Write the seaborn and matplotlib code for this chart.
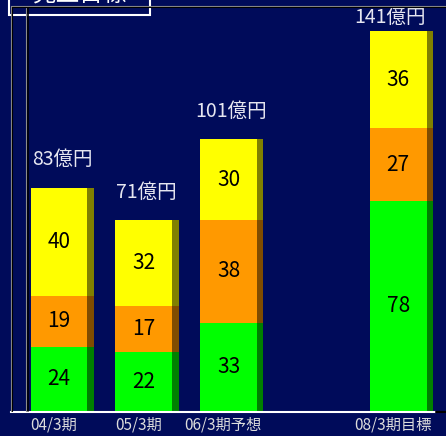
import numpy as np
import matplotlib
matplotlib.use("Agg")
import matplotlib.pyplot as plt
import matplotlib.patches as mpatches
from matplotlib.lines import Line2D
import seaborn as sns

# データ（億円）
periods = ['04/3期', '05/3期', '06/3期予想', '', '08/3期目標']
green = [24, 22, 33, np.nan, 78]
orange = [19, 17, 38, np.nan, 27]
yellow = [40, 32, 30, np.nan, 36]
totals = [83, 71, 101, np.nan, 141]
title = '売上目標'

navy = '#000b5a'
seg_colors = [('#00ff00', '#008000'), ('#ff9900', '#804c00'), ('#ffff00', '#808000')]

sns.set_style('dark')
plt.rcParams['font.family'] = ['Noto Sans CJK JP', 'DejaVu Sans']

W, H = 446, 436
fig = plt.figure(figsize=(W / 100, H / 100), dpi=100, facecolor=navy)
ax = fig.add_axes([11 / W, (H - 411.5) / H, 424 / W, 404.5 / H])
ax.set_facecolor(navy)

x = np.arange(len(periods))
off, bw, sw = -0.27, 0.672, 0.075
ymax = 150

bottom = np.zeros(len(periods))
for vals, (c, dark) in zip([green, orange, yellow], seg_colors):
    v = np.array(vals, dtype=float)
    ax.bar(x + off, v, bw, bottom=bottom, color=c, align='edge', linewidth=0)
    ax.bar(x + off + bw, v, sw, bottom=bottom, color=dark, align='edge', linewidth=0)
    for i in range(len(periods)):
        if not np.isnan(v[i]):
            ax.text(x[i] + off + bw / 2, bottom[i] + v[i] / 2, f'{int(v[i])}',
                    ha='center', va='center', fontsize=15, color='black')
    bottom = bottom + np.nan_to_num(v)

# 合計ラベル（上端に収まるように調整）
for i, t in enumerate(totals):
    if np.isnan(t):
        continue
    ty, tx = t + 10.4, x[i] + 0.1
    if ty > ymax - 3.8:
        ty, tx = ymax - 3.8, x[i] - 0.03
    ax.text(tx, ty, f'{int(t)}億円', ha='center', va='center',
            fontsize=14, color='#e6e6f0', zorder=5)

ax.set_xlim(-0.5, len(periods) - 0.5)
ax.set_ylim(0, ymax)
ax.set_yticks([])
ax.set_xticks(x)
ax.set_xticklabels(periods, fontsize=11, color='#dcdcdc')
ax.set_xticks(np.arange(len(periods) + 1) - 0.5, minor=True)
ax.tick_params(axis='x', which='major', length=0, pad=3.5)
ax.tick_params(axis='x', which='minor', length=5, width=1.1, color='white', direction='inout')
for s in ['top', 'right', 'left']:
    ax.spines[s].set_visible(False)
ax.spines['bottom'].set_color('white')
ax.spines['bottom'].set_linewidth(1.5)
ax.grid(False)

# 枠線
def px(xp, yp):
    return xp / W, 1 - yp / H

def fline(p0, p1, color, lw=0.8):
    (x0, y0), (x1, y1) = px(*p0), px(*p1)
    fig.add_artist(Line2D([x0, x1], [y0, y1], color=color, lw=lw, transform=fig.transFigure))

fline((11, 6.5), (446, 6.5), '#8c8c8c')
fline((12, 7.5), (446, 7.5), '#000000')
fline((11, 6.5), (11, 411), '#8c8c8c')
fline((12, 7.5), (12, 411), '#000000')
fline((26, 8), (26, 411), '#8c8c8c')
fline((27.5, 8), (27.5, 411), '#000000', lw=1.2)
fline((436, 412), (446, 412), '#000000', lw=1.5)

# タイトル枠
bx0, by0 = px(9, 15)
fig.add_artist(mpatches.Rectangle((bx0, by0), 141 / W, 0.1, transform=fig.transFigure,
                                  facecolor=navy, edgecolor='white', lw=1.5))
fig.text(80 / W, 1 + 4.6 / H, title, ha='center', va='center', fontsize=17, color='white')

fig.savefig('out.png', dpi=100, facecolor=navy)
